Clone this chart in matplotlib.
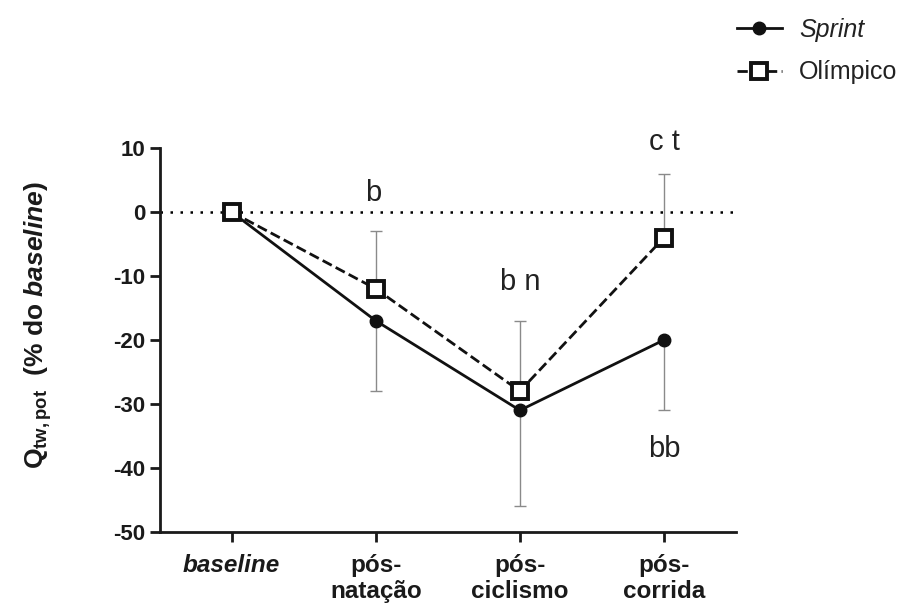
import matplotlib.pyplot as plt
import numpy as np

plt.rcParams['font.family'] = ['Liberation Sans', 'DejaVu Sans']
plt.rcParams['axes.unicode_minus'] = False
plt.rcParams['mathtext.fontset'] = 'custom'
plt.rcParams['mathtext.rm'] = 'Liberation Sans:bold'
plt.rcParams['mathtext.it'] = 'Liberation Sans:italic:bold'
plt.rcParams['mathtext.bf'] = 'Liberation Sans:bold'

# Dados
momentos = ["baseline", "pós-\nnatação", "pós-\nciclismo", "pós-\ncorrida"]
sprint = [0, -17, -31, -20]
sprint_dp = [0, 11, 15, 11]        # barra só para baixo
olimpico = [0, -12, -28, -4]
olimpico_dp = [0, 9, 11, 10]       # barra só para cima
letras = ["b", "b n", "c t", "bb"]
letras_pos = [(0.98, 3), (2, -11), (3, 11), (3, -37)]

x = np.arange(len(momentos))

fig = plt.figure(figsize=(9.02, 6.12), dpi=100)
ax = fig.add_axes([0.177, 0.131, 0.639, 0.627])

# linha de referência
ax.axhline(0, color='k', linestyle=(0, (1, 3)), linewidth=1.8, zorder=1)

# barras de erro (cinza)
ax.errorbar(x, sprint, yerr=[sprint_dp, np.zeros(len(x))], fmt='none',
            ecolor='#8a8a8a', elinewidth=1, capsize=4, capthick=1, zorder=2)
ax.errorbar(x, olimpico, yerr=[np.zeros(len(x)), olimpico_dp], fmt='none',
            ecolor='#8a8a8a', elinewidth=1, capsize=4, capthick=1, zorder=2)

l1, = ax.plot(x, sprint, '-o', color='#111111', linewidth=2, markersize=9,
              label='Sprint', zorder=3)
l2, = ax.plot(x, olimpico, '--s', color='#111111', linewidth=2, markersize=11,
              markerfacecolor='white', markeredgewidth=2.8, label='Olímpico',
              zorder=4)

for txt, (xi, yi) in zip(letras, letras_pos):
    ax.text(xi, yi, txt, ha='center', va='center', fontsize=21, color='#222222')

ax.set_xlim(-0.5, 3.5)
ax.set_ylim(-50, 10)
ax.set_yticks(np.arange(-50, 11, 10))
ax.set_xticks(x)
ax.set_xticklabels(momentos, fontsize=17.5, fontweight='bold', color='#1a1a1a',
                   linespacing=1.15)
ax.get_xticklabels()[0].set_fontstyle('italic')
ax.tick_params(axis='y', labelsize=16, width=2, length=7, colors='#1a1a1a')
ax.tick_params(axis='x', width=2, length=7, pad=9, colors='#1a1a1a')
for lab in ax.get_yticklabels():
    lab.set_fontweight('bold')

ax.spines['top'].set_visible(False)
ax.spines['right'].set_visible(False)
ax.spines['left'].set_linewidth(2)
ax.spines['bottom'].set_linewidth(2)
ax.spines['left'].set_color('#1a1a1a')
ax.spines['bottom'].set_color('#1a1a1a')

ax.set_ylabel(r"Q$_{\mathrm{tw,pot}}$  (% do $\mathit{baseline}$)",
              fontsize=19, fontweight='bold', color='#1a1a1a')
ax.yaxis.set_label_coords(-0.183, 0.54)

leg = fig.legend(handles=[l1, l2], loc='upper right', bbox_to_anchor=(1.02, 1.008),
                 frameon=False, fontsize=18, handlelength=1.8, labelspacing=0.75,
                 handletextpad=0.7)
leg.get_texts()[0].set_fontstyle('italic')
for t in leg.get_texts():
    t.set_color('#222222')

fig.savefig('out.png', dpi=100)
